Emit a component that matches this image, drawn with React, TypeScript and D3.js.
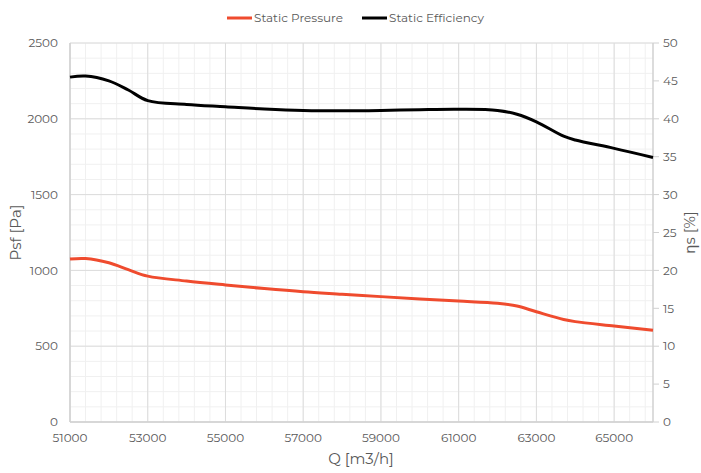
import * as d3 from 'd3';

const flow = [51000, 51400, 52000, 52500, 53000, 54000, 55000, 56000, 57000, 58000, 59000, 60000, 61000, 62000, 62500, 63000, 63700, 64000, 65000, 66000];
const pressure = [1075, 1078, 1050, 1005, 962, 930, 904, 880, 859, 843, 827, 812, 798, 783, 765, 727, 676, 662, 633, 605];
const efficiency = [45.5, 45.65, 45.0, 43.8, 42.4, 41.9, 41.6, 41.3, 41.1, 41.05, 41.1, 41.2, 41.25, 41.1, 40.6, 39.6, 37.7, 37.2, 36.1, 34.9];

const xTicks = [51000, 53000, 55000, 57000, 59000, 61000, 63000, 65000];
const pTicks = [0, 500, 1000, 1500, 2000, 2500];
const eTicks = [0, 5, 10, 15, 20, 25, 30, 35, 40, 45, 50];

const W = 701;
const H = 473;
const left = 70;
const right = 653;
const top = 43;
const bottom = 422;

const font = 'Montserrat, "Noto Sans", Lato, sans-serif';
const textColor = '#595959';
const red = '#ef4b2e';

const App = (): JSX.Element => {
  const x = d3.scaleLinear().domain([51000, 66000]).range([left, right]);
  const yP = d3.scaleLinear().domain([0, 2500]).range([bottom, top]);
  const yE = d3.scaleLinear().domain([0, 50]).range([bottom, top]);

  const minorX = d3.range(51000, 66000 + 1, 400);
  const minorY = d3.range(0, 2500 + 1, 100);

  const pLine = d3.line<number>()
    .x((_d, i) => x(flow[i]))
    .y(d => yP(d))
    .curve(d3.curveCatmullRom.alpha(0.5));
  const eLine = d3.line<number>()
    .x((_d, i) => x(flow[i]))
    .y(d => yE(d))
    .curve(d3.curveCatmullRom.alpha(0.5));

  return (
    <svg width={W} height={H} style={{ position: 'absolute', left: 0, top: 0 }} fontFamily={font}>
      <rect width={W} height={H} fill="#fff" />
      {/* minor grid */}
      {minorX.map(v => (
        <line key={'mx' + v} x1={x(v)} x2={x(v)} y1={top} y2={bottom} stroke="#f0f0f0" strokeWidth={1} />
      ))}
      {minorY.map(v => (
        <line key={'my' + v} x1={left} x2={right} y1={yP(v)} y2={yP(v)} stroke="#f0f0f0" strokeWidth={1} />
      ))}
      {/* major grid */}
      {xTicks.map(v => (
        <line key={'gx' + v} x1={x(v)} x2={x(v)} y1={top} y2={bottom} stroke="#dcdcdc" strokeWidth={1} />
      ))}
      {pTicks.map(v => (
        <line key={'gy' + v} x1={left} x2={right} y1={yP(v)} y2={yP(v)} stroke="#dcdcdc" strokeWidth={1} />
      ))}
      {/* axis lines */}
      <line x1={left} x2={left} y1={top} y2={bottom} stroke="#d0d0d0" strokeWidth={1.5} />
      <line x1={right} x2={right} y1={top} y2={bottom} stroke="#d0d0d0" strokeWidth={1.5} />
      <line x1={left} x2={right} y1={bottom} y2={bottom} stroke="#d0d0d0" strokeWidth={1.5} />

      {/* left ticks */}
      {pTicks.map(v => (
        <text key={'lp' + v} x={58} y={yP(v)} dy="0.35em" textAnchor="end" fontSize={12} fill={textColor}>{v}</text>
      ))}
      {/* right ticks */}
      {eTicks.map(v => (
        <g key={'re' + v}>
          <line x1={right} x2={right + 6} y1={yE(v)} y2={yE(v)} stroke="#d0d0d0" strokeWidth={1} />
          <text x={663} y={yE(v)} dy="0.35em" fontSize={12} fill={textColor}>{v}</text>
        </g>
      ))}
      {/* bottom ticks */}
      {xTicks.map(v => (
        <text key={'bx' + v} x={x(v)} y={438} dy="0.35em" textAnchor="middle" fontSize={12} fill={textColor}>{v}</text>
      ))}

      {/* axis titles */}
      <text x={361} y={459} dy="0.35em" textAnchor="middle" fontSize={15} fill={textColor}>Q [m3/h]</text>
      <text transform={`translate(16,${(top + bottom) / 2}) rotate(-90)`} dy="0.35em" textAnchor="middle" fontSize={15} fill={textColor}>Psf [Pa]</text>
      <text transform={`translate(690,${(top + bottom) / 2}) rotate(-90)`} dy="0.35em" textAnchor="middle" fontSize={15} fill={textColor}>ηs [%]</text>

      {/* curves */}
      <path d={pLine(pressure) ?? ''} fill="none" stroke={red} strokeWidth={3} />
      <path d={eLine(efficiency) ?? ''} fill="none" stroke="#000" strokeWidth={3} />

      {/* legend */}
      <line x1={227} x2={252} y1={18} y2={18} stroke={red} strokeWidth={3} />
      <text x={254} y={18} dy="0.35em" fontSize={12} fill={textColor}>Static Pressure</text>
      <line x1={362} x2={387} y1={18} y2={18} stroke="#000" strokeWidth={3} />
      <text x={389} y={18} dy="0.35em" fontSize={12} fill={textColor}>Static Efficiency</text>
    </svg>
  );
};

export default App;
